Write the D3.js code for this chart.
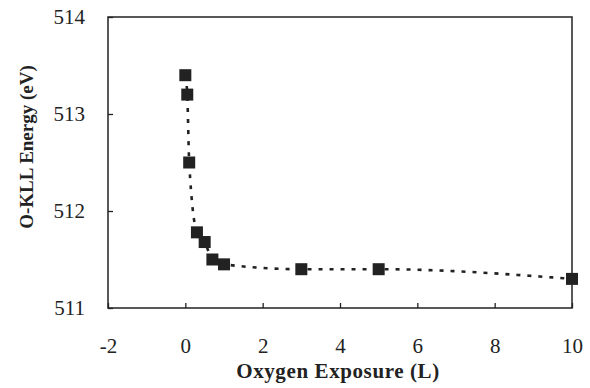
<!DOCTYPE html>
<html lang="en">
<head>
    <meta charset="UTF-8">
    <title>O-KLL Energy vs Oxygen Exposure</title>
    <script src="https://d3js.org/d3.v7.min.js"></script>
    <style>
        body { margin: 0; background: #fff; }
        .tick text {
            font-family: "Liberation Serif", "Times New Roman", serif;
            font-size: 21px;
            fill: #222;
        }
        .tick line { stroke: #222; stroke-width: 1.3px; }
        .domain { display: none; }
        .title {
            font-family: "Liberation Serif", "Times New Roman", serif;
            font-size: 21px;
            font-weight: bold;
            fill: #222;
        }
        .fit {
            fill: none;
            stroke: #222;
            stroke-width: 2.6px;
            stroke-dasharray: 4 7;
        }
        .frame { fill: none; stroke: #222; stroke-width: 1.5px; }
        .pt { fill: #222; }
    </style>
</head>
<body>
    <svg width="590" height="388"></svg>
    <script>
        // values
        const exposure = [0, 0.05, 0.1, 0.3, 0.5, 0.7, 1, 3, 5, 10];
        const energy = [513.4, 513.2, 512.5, 511.78, 511.68, 511.5, 511.45, 511.4, 511.4, 511.3];
        const xTicks = [-2, 0, 2, 4, 6, 8, 10];
        const yTicks = [511, 512, 513, 514];

        const data = exposure.map((x, i) => ({ x: x, y: energy[i] }));

        const svg = d3.select("svg");
        const plotL = 108, plotR = 572, plotT = 17, plotB = 308;

        const x = d3.scaleLinear().domain([-2, 10]).range([plotL, plotR]);
        const y = d3.scaleLinear().domain([511, 514]).range([plotB, plotT]);

        // plain hyphen for negatives, as in the original
        const fmt = d => String(d);

        svg.append("g")
            .attr("transform", "translate(0," + plotB + ")")
            .call(d3.axisBottom(x).tickValues(xTicks).tickFormat(fmt)
                .tickSizeInner(-5).tickSizeOuter(0).tickPadding(30));

        svg.append("g")
            .attr("transform", "translate(" + plotL + ",0)")
            .call(d3.axisLeft(y).tickValues(yTicks).tickFormat(fmt)
                .tickSizeInner(-5).tickSizeOuter(0).tickPadding(23));

        svg.append("rect")
            .attr("class", "frame")
            .attr("x", plotL).attr("y", plotT)
            .attr("width", plotR - plotL).attr("height", plotB - plotT);

        const line = d3.line()
            .x(d => x(d.x))
            .y(d => y(d.y))
            .curve(d3.curveMonotoneX);

        svg.append("path")
            .datum(data)
            .attr("class", "fit")
            .attr("d", line);

        const s = 12;
        svg.selectAll(".pt")
            .data(data)
            .enter().append("rect")
            .attr("class", "pt")
            .attr("x", d => x(d.x) - s / 2)
            .attr("y", d => y(d.y) - s / 2)
            .attr("width", s)
            .attr("height", s);

        svg.append("text")
            .attr("class", "title")
            .attr("x", 338).attr("y", 378)
            .attr("text-anchor", "middle")
            .style("letter-spacing", "0.6px")
            .text("Oxygen Exposure (L)");

        svg.append("text")
            .attr("class", "title")
            .attr("transform", "translate(33,147) rotate(-90)")
            .attr("text-anchor", "middle")
            .style("font-size", "19px")
            .text("O-KLL Energy (eV)");
    </script>
</body>
</html>
